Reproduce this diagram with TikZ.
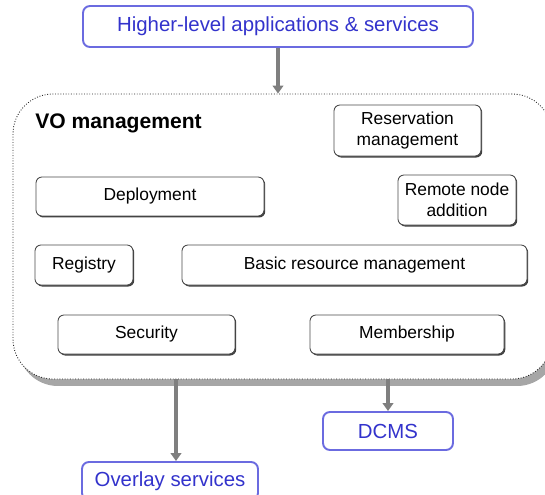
\documentclass[tikz,border=0pt]{standalone}
\usepackage{fontspec}
\setmainfont{Liberation Sans}
\usepackage{xcolor}
\usepackage{tikz}
\usetikzlibrary{shapes,arrows.meta,positioning,calc,shadows}
\definecolor{hlblue}{HTML}{3333CC}
\definecolor{hlframe}{HTML}{6B6BE0}
\definecolor{flowgray}{HTML}{7F7F7F}

\begin{document}
\begin{tikzpicture}[
    part/.style={draw=black!70, line width=0.5pt, rounded corners=0.12cm, fill=white, align=center,
        font=\fontsize{9.9}{11.9}\selectfont,
        drop shadow={shadow xshift=0.025cm, shadow yshift=-0.03cm, fill=black!75, opacity=1}},
    ext/.style={draw=hlframe, line width=1.1pt, rounded corners=0.14cm, fill=white, text=hlblue,
        font=\fontsize{11.6}{14}\selectfont},
    flow/.style={-{Triangle[width=6pt,length=4.5pt]}, draw=flowgray, line width=2.3pt}
]
    \useasboundingbox (0,0) rectangle (10.9,-9.9);
    \clip (0,0) rectangle (10.9,-9.9);

    % Outside world
    \node[ext, minimum width=7.8cm, minimum height=0.82cm] (apps) at (5.56,-0.53) {Higher-level applications \& services};

    % VO management block
    \node[draw=black!85, densely dotted, line width=0.5pt, rounded corners=0.8cm, fill=white,
        minimum width=10.78cm, minimum height=5.7cm,
        drop shadow={shadow xshift=0.1cm, shadow yshift=-0.14cm, fill=black!35, opacity=1}] (vo) at (5.65,-4.73) {};
    \node[anchor=west, inner sep=0pt, font=\fontsize{12}{14}\selectfont\bfseries] (votitle) at (0.7,-2.47) {VO management};

    % Components
    \node[part, minimum width=2.94cm, minimum height=1.02cm] (resv) at (8.15,-2.61) {Reservation\\management};
    \node[part, minimum width=4.56cm, minimum height=0.78cm] (deploy) at (3.0,-3.93) {Deployment};
    \node[part, minimum width=2.36cm, minimum height=1.0cm] (remote) at (9.14,-4.0) {Remote node\\addition};
    \node[part, minimum width=1.96cm, minimum height=0.8cm] (registry) at (1.68,-5.3) {Registry};
    \node[part, minimum width=6.9cm, minimum height=0.8cm] (basic) at (7.09,-5.3) {Basic resource management};
    \node[part, minimum width=3.54cm, minimum height=0.78cm] (security) at (2.93,-6.69) {Security};
    \node[part, minimum width=3.88cm, minimum height=0.78cm] (member) at (8.14,-6.69) {Membership};

    % Lower services
    \node[ext, minimum width=2.6cm, minimum height=0.76cm] (dcms) at (7.76,-8.62) {DCMS};
    \node[ext, minimum width=3.52cm, minimum height=0.76cm] (overlay) at (3.4,-9.62) {Overlay services};

    % Arrows
    \draw[flow] (apps) -- (apps |- vo.north);
    \draw[flow] ($(vo.south -| overlay.north)+(0.12,0)$) -- ($(overlay.north)+(0.12,0)$);
    \draw[flow] (vo.south -| dcms.north) -- (dcms);
\end{tikzpicture}
\end{document}
